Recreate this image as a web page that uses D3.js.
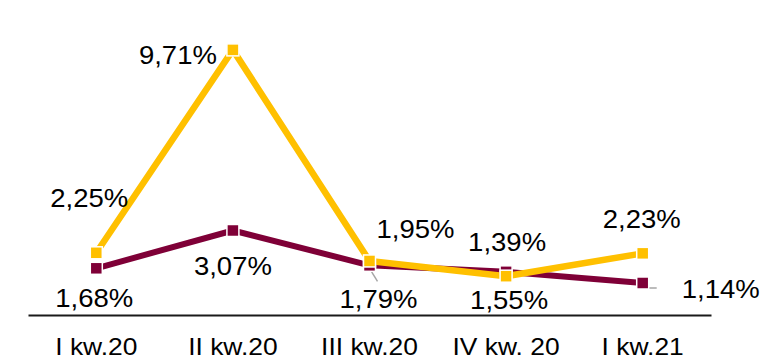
<!DOCTYPE html>
<html>
<head>
<meta charset="utf-8">
<script src="https://cdn.jsdelivr.net/npm/d3@7"></script>
<style>
  html, body { margin: 0; padding: 0; background: #fff; }
  text { font-family: "Liberation Sans", Arial, sans-serif; fill: #000; }
</style>
</head>
<body>
<svg id="chart" width="773" height="362"></svg>
<script>
// Quarterly values (%)
const categories = ["I kw.20", "II kw.20", "III kw.20", "IV kw. 20", "I kw.21"];
const seriesYellow = [2.25, 9.71, 1.95, 1.39, 2.23];
const seriesRed = [1.68, 3.07, 1.79, 1.55, 1.14];

const svg = d3.select("#chart");

const x = d3.scaleBand().domain(categories).range([28, 711]);
const y = d3.scaleLinear().domain([0, 10]).range([314, 42]);
const cx = c => x(c) + x.bandwidth() / 2;

const fmt = v => d3.format(".2f")(v).replace(".", ",") + "%";

// widen glyphs slightly for the chart's wide lettering
function stretch(sel, k) {
  sel.each(function () {
    const w = this.getComputedTextLength();
    d3.select(this).attr("textLength", w * k).attr("lengthAdjust", "spacingAndGlyphs");
  });
}

// category axis
const axis = d3.axisBottom(x).tickSize(0).tickPadding(23);
const gAxis = svg.append("g").attr("transform", `translate(0,${y(0) + 1})`).call(axis);
gAxis.select(".domain").attr("stroke", "#1a1a1a").attr("stroke-width", 2);
gAxis.selectAll("text")
  .style("font-family", '"Liberation Sans", Arial, sans-serif')
  .style("font-size", "24px").attr("fill", "#000")
  .call(stretch, 1.1);

// label leader lines
const leaders = svg.append("g").attr("stroke", "#a6a6a6").attr("stroke-width", 1.5).attr("fill", "none");
leaders.append("path").attr("d", `M${cx(categories[2])},${y(seriesRed[2]) + 3} L${cx(categories[2]) + 8},${y(seriesRed[2]) + 16}`);
leaders.append("path").attr("d", `M${cx(categories[3]) - 5},${y(seriesRed[3]) - 3} L${cx(categories[3]) + 5},${y(seriesRed[3]) - 3}`).attr("stroke", "#d9a0b4");
leaders.append("path").attr("d", `M${cx(categories[4]) + 2},${y(seriesRed[4]) + 1} L${cx(categories[4]) + 2},${y(seriesRed[4]) + 5} L${cx(categories[4]) + 14},${y(seriesRed[4]) + 5}`);

function drawSeries(values, color, width) {
  const pts = categories.map((c, i) => [cx(c), y(values[i])]);
  svg.append("path")
    .datum(pts)
    .attr("d", d3.line())
    .attr("fill", "none")
    .attr("stroke", color)
    .attr("stroke-width", width)
    .attr("stroke-linejoin", "round");
  svg.append("g").selectAll("rect")
    .data(pts).join("rect")
    .attr("x", d => d[0] - 6).attr("y", d => d[1] - 6)
    .attr("width", 12).attr("height", 12)
    .attr("fill", color)
    .attr("stroke", "#fff").attr("stroke-width", 1.5);
}

drawSeries(seriesRed, "#7f0037", 6);
drawSeries(seriesYellow, "#ffc000", 6.5);

// value labels: [dx, dy] relative to the point
const offYellow = [[-7, -52], [-55, 8], [46, -30], [1, -32], [-1, -32]];
const offRed = [[-2, 32], [0, 38], [9, 36], [3, 31], [78, 8]];

function drawLabels(values, offs) {
  svg.append("g").selectAll("text")
    .data(values).join("text")
    .attr("x", (d, i) => cx(categories[i]) + offs[i][0])
    .attr("y", (d, i) => y(d) + offs[i][1])
    .attr("text-anchor", "middle")
    .attr("dominant-baseline", "middle")
    .style("font-size", "25px")
    .text(d => fmt(d))
    .call(stretch, 1.1);
}
drawLabels(seriesYellow, offYellow);
drawLabels(seriesRed, offRed);
</script>
</body>
</html>
